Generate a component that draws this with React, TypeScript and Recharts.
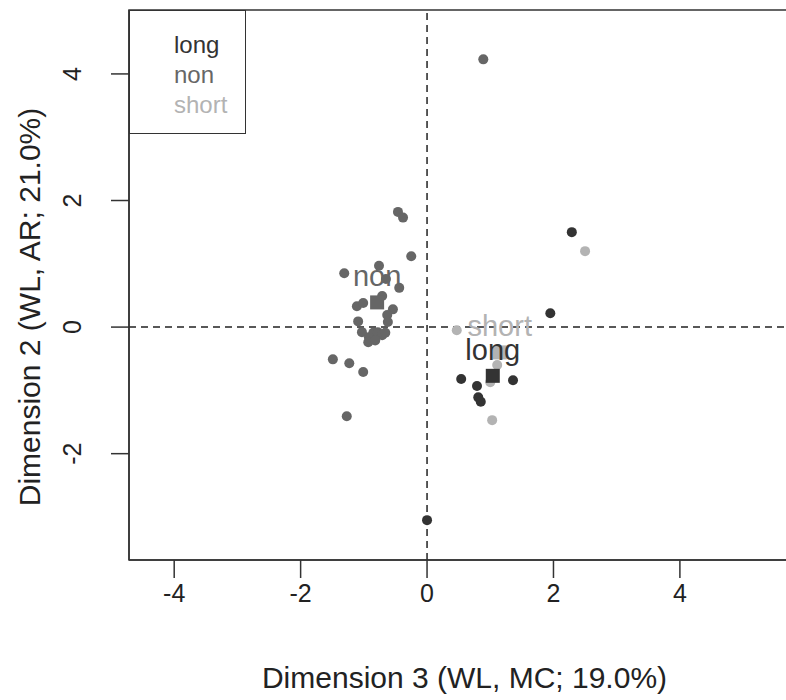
import React from "react";
import {
  ScatterChart,
  Scatter,
  XAxis,
  YAxis,
  ReferenceLine,
  ReferenceArea,
} from "recharts";

const groups = ["long", "non", "short"];
const groupColors: Record<string, string> = {
  long: "#333333",
  non: "#666666",
  short: "#b3b3b3",
};

const xTicks = [-4, -2, 0, 2, 4];
const yTicks = [-2, 0, 2, 4];

const nonPoints = [
  { x: -0.46, y: 1.82 }, { x: -0.38, y: 1.73 }, { x: -0.25, y: 1.12 },
  { x: -1.31, y: 0.85 }, { x: -0.76, y: 0.97 }, { x: -0.65, y: 0.76 },
  { x: -0.44, y: 0.62 }, { x: -1.11, y: 0.33 }, { x: -1.01, y: 0.38 },
  { x: -0.71, y: 0.49 }, { x: -0.54, y: 0.28 }, { x: -0.63, y: 0.19 },
  { x: -0.62, y: 0.08 }, { x: -1.09, y: 0.09 }, { x: -1.03, y: -0.08 },
  { x: -0.92, y: -0.16 }, { x: -0.85, y: -0.09 }, { x: -0.78, y: -0.08 },
  { x: -0.71, y: -0.13 }, { x: -0.93, y: -0.24 }, { x: -0.82, y: -0.21 },
  { x: -0.66, y: -0.09 }, { x: -1.49, y: -0.51 }, { x: -1.23, y: -0.57 },
  { x: -1.01, y: -0.71 }, { x: -1.27, y: -1.41 }, { x: 0.89, y: 4.23 },
];

const shortPoints = [
  { x: 0.47, y: -0.05 }, { x: 2.5, y: 1.2 }, { x: 1.03, y: -1.47 },
  { x: 1.11, y: -0.6 }, { x: 1.0, y: -0.87 },
];

const longPoints = [
  { x: 2.29, y: 1.5 }, { x: 1.95, y: 0.22 }, { x: 0.0, y: -3.05 },
  { x: 0.54, y: -0.82 }, { x: 0.79, y: -0.93 }, { x: 0.81, y: -1.11 },
  { x: 0.85, y: -1.18 }, { x: 1.36, y: -0.84 },
];

const centroids = [
  { x: 1.15, y: -0.4, name: "short" },
  { x: -0.79, y: 0.39, name: "non" },
  { x: 1.04, y: -0.77, name: "long" },
];

const xDomain = [-4.715, 5.9];
const yDomain = [-3.68, 5.01];

const FONT = "'Liberation Sans', Arial, sans-serif";

const dot = (color: string) => (props: any) =>
  <circle cx={props.cx} cy={props.cy} r={5} fill={color} />;

const CentroidShape = (props: any) => {
  const color = groupColors[props.payload.name];
  return (
    <rect x={props.cx - 7} y={props.cy - 7} width={14} height={14} fill={color} />
  );
};

const CentroidLabel = (props: any) => {
  const color = groupColors[props.payload.name];
  return (
    <text
      x={props.cx}
      y={props.cy - 16}
      textAnchor="middle"
      fill={color}
      fontSize={29}
      fontFamily={FONT}
    >
      {props.payload.name}
    </text>
  );
};

// legend drawn as an overlay so the chart doesn't reserve space for it
const LegendBox = () => (
  <div
    style={{
      position: "absolute",
      left: 129,
      top: 10,
      width: 117,
      height: 124,
      border: "1.5px solid #333",
      boxSizing: "border-box",
      background: "#fff",
      fontFamily: FONT,
      fontSize: 24,
      lineHeight: "30px",
      paddingTop: 19,
      paddingLeft: 44,
    }}
  >
    {groups.map((g) => (
      <div key={g} style={{ color: groupColors[g] }}>
        {g}
      </div>
    ))}
  </div>
);

export default function App() {
  return (
    <div style={{ position: "absolute", left: 0, top: 0, width: 786, height: 700, overflow: "hidden", background: "#fff" }}>
      <ScatterChart
        width={800}
        height={700}
        margin={{ top: 10, right: 0, bottom: 0, left: 0 }}
      >
        <XAxis
          type="number"
          dataKey="x"
          domain={xDomain}
          ticks={xTicks}
          allowDataOverflow
          height={140}
          tickSize={18}
          tickMargin={6}
          stroke="#333"
          strokeWidth={1.5}
          tick={{ fill: "#222", fontSize: 25, fontFamily: FONT }}
          label={{
            value: "Dimension 3 (WL, MC; 19.0%)",
            position: "insideBottom",
            offset: 12,
            fill: "#222",
            fontSize: 30,
            fontFamily: FONT,
          }}
        />
        <YAxis
          type="number"
          dataKey="y"
          domain={yDomain}
          ticks={yTicks}
          allowDataOverflow
          width={129}
          tickSize={18}
          stroke="#333"
          strokeWidth={1.5}
          tick={(p: any) => (
            <text
              x={p.x - 28}
              y={p.y}
              transform={`rotate(-90 ${p.x - 28} ${p.y})`}
              textAnchor="middle"
              fill="#222"
              fontSize={25}
              fontFamily={FONT}
            >
              {p.payload.value}
            </text>
          )}
          label={(p: any) => {
            const vb = p.viewBox;
            const cx = vb.x + vb.width - 100;
            const cy = vb.y + vb.height / 2 + 22;
            return (
              <text
                x={cx}
                y={cy}
                transform={`rotate(-90 ${cx} ${cy})`}
                textAnchor="middle"
                dominantBaseline="central"
                fill="#222"
                fontSize={30}
                fontFamily={FONT}
              >
                Dimension 2 (WL, AR; 21.0%)
              </text>
            );
          }}
        />
        <ReferenceArea
          x1={xDomain[0]}
          x2={xDomain[1]}
          y1={yDomain[0]}
          y2={yDomain[1]}
          fill="none"
          stroke="#333"
          strokeWidth={1.5}
          ifOverflow="visible"
        />
        <ReferenceLine x={0} stroke="#222" strokeWidth={1.5} strokeDasharray="7 5" />
        <ReferenceLine y={0} stroke="#222" strokeWidth={1.5} strokeDasharray="7 5" />
        <Scatter data={nonPoints} shape={dot(groupColors.non)} isAnimationActive={false} />
        <Scatter data={shortPoints} shape={dot(groupColors.short)} isAnimationActive={false} />
        <Scatter data={longPoints} shape={dot(groupColors.long)} isAnimationActive={false} />
        <Scatter data={centroids} shape={CentroidShape} isAnimationActive={false} />
        <Scatter data={centroids} shape={CentroidLabel} isAnimationActive={false} />
      </ScatterChart>
      <LegendBox />
    </div>
  );
}
